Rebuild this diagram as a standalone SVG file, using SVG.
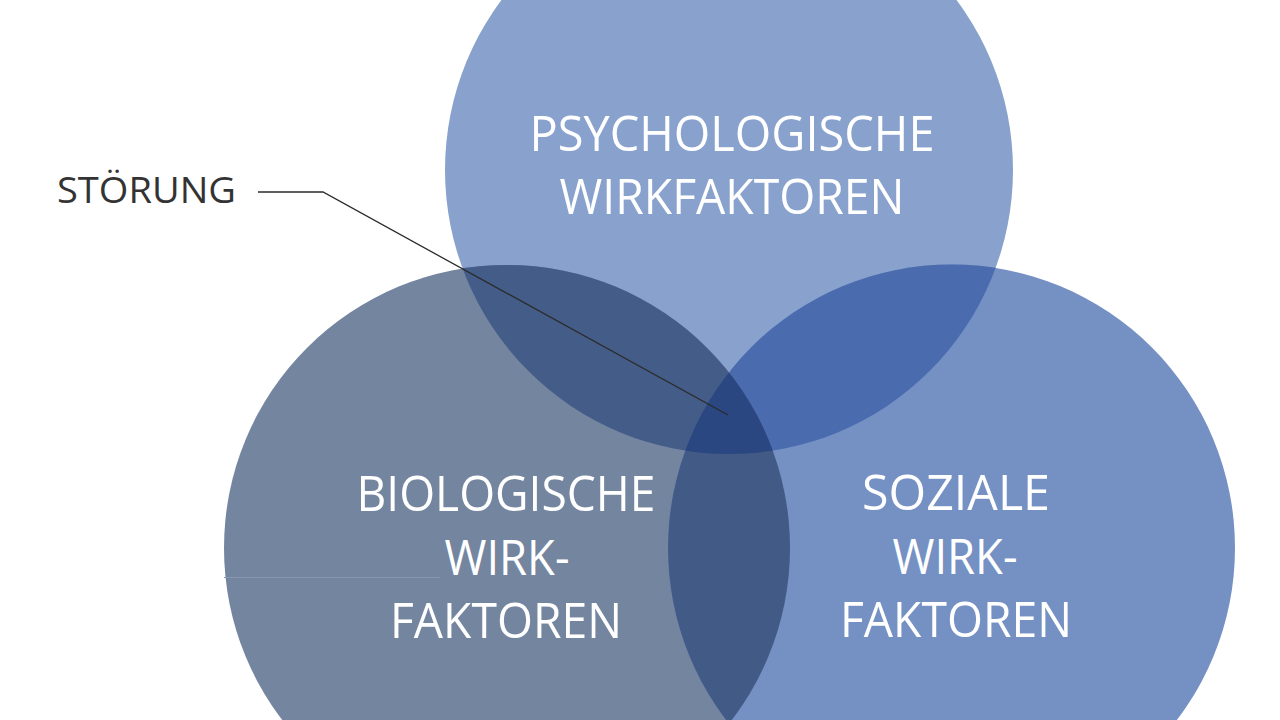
<svg xmlns="http://www.w3.org/2000/svg" width="1280" height="720" viewBox="0 0 1280 720">
  <style>
    .lbl { font-family: "Open Sans", "Noto Sans", "Liberation Sans", sans-serif; fill: #ffffff; font-size: 50px; text-anchor: middle; }
    .note { font-family: "Open Sans", "Noto Sans", "Liberation Sans", sans-serif; fill: #333333; font-size: 37px; }
    .conn { fill: none; stroke: #2b2b2b; stroke-width: 1.3; }
  </style>
  <defs>
    <clipPath id="cT"><circle cx="729" cy="170" r="284"/></clipPath>
    <clipPath id="cL"><circle cx="507" cy="548" r="283"/></clipPath>
    <clipPath id="cR"><circle cx="951.5" cy="548" r="283.5"/></clipPath>
  </defs>
  <rect width="1280" height="720" fill="#ffffff"/>

  <g id="node-psychologisch">
    <circle cx="729" cy="170" r="284" fill="#88a1cd"/>
  </g>
  <g id="node-biologisch">
    <circle cx="507" cy="548" r="283" fill="#74859f"/>
    <line x1="224" y1="577.5" x2="440" y2="577.5" stroke="#8797b2" stroke-width="1"/>
  </g>
  <g id="node-sozial">
    <circle cx="951.5" cy="548" r="283.5" fill="#7591c4"/>
  </g>
  <g id="overlaps">
    <g clip-path="url(#cT)"><circle cx="507" cy="548" r="283" fill="#445c88"/></g>
    <g clip-path="url(#cT)"><circle cx="951.5" cy="548" r="283.5" fill="#4a6bae"/></g>
    <g clip-path="url(#cL)"><circle cx="951.5" cy="548" r="283.5" fill="#425a86"/></g>
    <g clip-path="url(#cT)"><g clip-path="url(#cL)"><circle cx="951.5" cy="548" r="283.5" fill="#2a4781"/></g></g>
  </g>

  <g id="labels">
    <text class="lbl" x="732" y="151" textLength="405" lengthAdjust="spacingAndGlyphs">PSYCHOLOGISCHE</text>
    <text class="lbl" x="732" y="214" textLength="345" lengthAdjust="spacingAndGlyphs">WIRKFAKTOREN</text>
    <text class="lbl" x="506" y="511" textLength="299" lengthAdjust="spacingAndGlyphs">BIOLOGISCHE</text>
    <text class="lbl" x="507" y="575" textLength="125" lengthAdjust="spacingAndGlyphs">WIRK-</text>
    <text class="lbl" x="506" y="638" textLength="232" lengthAdjust="spacingAndGlyphs">FAKTOREN</text>
    <text class="lbl" x="956" y="510" textLength="188" lengthAdjust="spacingAndGlyphs">SOZIALE</text>
    <text class="lbl" x="955" y="574" textLength="125" lengthAdjust="spacingAndGlyphs">WIRK-</text>
    <text class="lbl" x="956" y="637" textLength="232" lengthAdjust="spacingAndGlyphs">FAKTOREN</text>
  </g>

  <g id="node-stoerung">
    <text class="note" x="57" y="203" textLength="179" lengthAdjust="spacingAndGlyphs">STÖRUNG</text>
  </g>

  <g id="connectors">
    <polyline class="conn" points="258,192 323,192 728,415"/>
  </g>
</svg>
